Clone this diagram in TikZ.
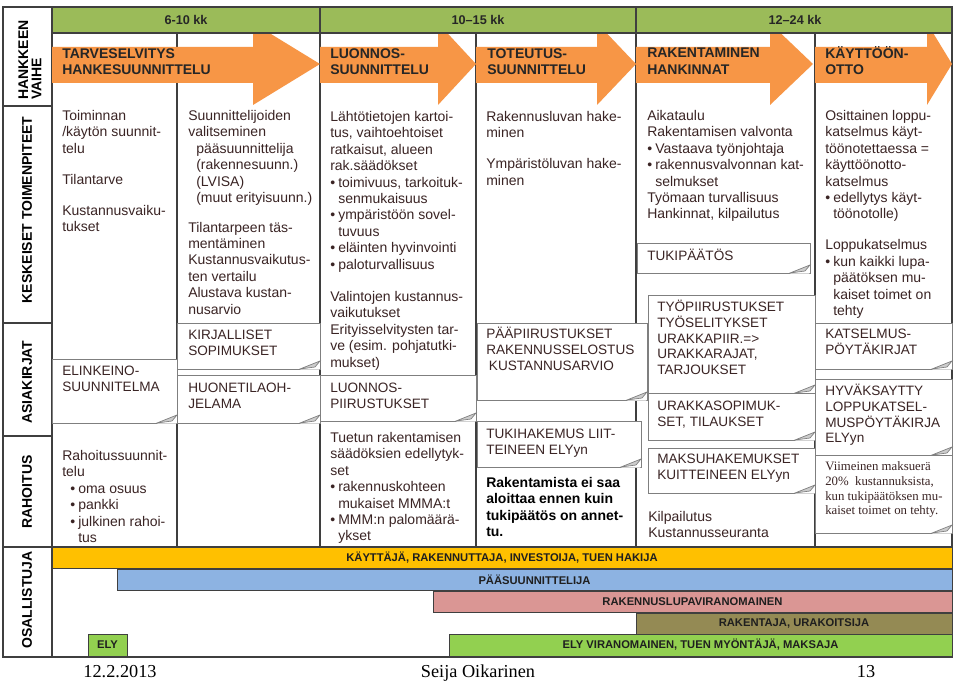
\documentclass[tikz,border=0pt]{standalone}
\usepackage{fontspec}
\setmainfont{Liberation Sans}
\newfontfamily\timesfont{Liberation Serif}
\usetikzlibrary{calc}
\definecolor{PhaseGreen}{HTML}{9BBB59}
\definecolor{PhaseOrange}{HTML}{F79646}
\definecolor{UserYellow}{HTML}{FFC000}
\definecolor{DesignBlue}{HTML}{8DB3E2}
\definecolor{PermitRose}{HTML}{DA9694}
\definecolor{BuilderOlive}{HTML}{948A54}
\definecolor{ElyGreen}{HTML}{92D050}
\definecolor{GridGray}{HTML}{3F3F3F}
\definecolor{BoxGray}{HTML}{7F7F7F}
\definecolor{InkBrown}{HTML}{3A2424}

\newcommand{\bul}{\makebox[6pt][l]{\textbullet}}
\newcommand{\ind}{\hspace*{6pt}}
% taitettu kulma asiakirjalaatikon oikeaan alakulmaan
\newcommand{\curl}[2]{%
  \fill[white] (#1-20,#2+0.6) -- (#1-0.6,#2+0.6) -- (#1-0.6,#2-8) -- cycle;
  \filldraw[fill=gray!40, draw=BoxGray, line width=0.5pt] (#1-20,#2) -- (#1,#2-8) -- (#1-5,#2-2) -- cycle;}

\begin{document}
\begin{tikzpicture}[x=0.75pt, y=-0.75pt,
    font=\fontsize{10.5}{12.3}\selectfont,
    tableline/.style={draw=GridGray, line width=0.9pt},
    period/.style={draw=GridGray, fill=PhaseGreen, line width=0.9pt},
    periodtext/.style={inner sep=0pt, text=black!85, font=\bfseries\fontsize{9.5}{11}\selectfont},
    phasetext/.style={anchor=north west, align=left, inner sep=0pt, text=black!85, font=\bfseries\fontsize{10.5}{12.5}\selectfont},
    rowlabel/.style={rotate=90, align=left, inner sep=0pt, text=black, font=\bfseries\fontsize{10.5}{10}\selectfont},
    celltext/.style={anchor=north west, align=left, inner sep=0pt, text=InkBrown, font=\fontsize{10.5}{12.3}\selectfont},
    doctext/.style={anchor=north west, align=left, inner sep=0pt, text=InkBrown, font=\fontsize{10.2}{11.8}\selectfont},
    docbox/.style={draw=BoxGray, fill=white, line width=0.7pt},
    partybar/.style={draw=GridGray, line width=0.7pt},
    bartext/.style={inner sep=0pt, text=black!88, font=\bfseries\fontsize{8.4}{9}\selectfont},
    foot/.style={anchor=base, inner sep=0pt, font=\timesfont\fontsize{13.7}{15}\selectfont}
]

  % Tausta ja kuvan rajat
  \fill[white] (0,0) rectangle (960,681);
  \useasboundingbox (0,0) rectangle (960,681);

  % =========================================================================
  % TAULUKON RUNKO
  % =========================================================================
  \draw[tableline] (3,7) rectangle (952,657);
  \draw[tableline] (52,7) -- (52,657);
  \foreach \yy in {106,323,436,547} \draw[tableline] (3,\yy) -- (52,\yy);
  \draw[tableline] (52,547) -- (952,547);
  \foreach \xx in {177,320,476,636,815} \draw[tableline] (\xx,33) -- (\xx,547);

  % =========================================================================
  % HANKKEEN VAIHEET (NUOLET)
  % =========================================================================
  \foreach \xa/\xb/\xc in {52/253/320, 320/438/476, 476/597/636, 636/770/813, 815/927/952}
    \fill[PhaseOrange] (\xa,47) -- (\xb,47) -- (\xb,23) -- (\xc,64) -- (\xb,105) -- (\xb,83) -- (\xa,83) -- cycle;

  \node[phasetext] (v1) at (62,48) {TARVESELVITYS\\HANKESUUNNITTELU};
  \node[phasetext] (v2) at (330,48) {LUONNOS-\\SUUNNITTELU};
  \node[phasetext] (v3) at (487,48) {TOTEUTUS-\\SUUNNITTELU};
  \node[phasetext] (v4) at (647,48) {RAKENTAMINEN\\HANKINNAT};
  \node[phasetext] (v5) at (825,46) {KÄYTTÖÖN-\\OTTO};

  % Kestot
  \draw[period] (52,7) rectangle (320,33);
  \draw[period] (320,7) rectangle (636,33);
  \draw[period] (636,7) rectangle (952,33);
  \node[periodtext] (p1) at (186,20) {6-10 kk};
  \node[periodtext] (p2) at (478,20) {10–15 kk};
  \node[periodtext] (p3) at (795,20) {12–24 kk};

  % Rivien otsikot
  \node[rowlabel] (r1) at (30,60) {HANKKEEN\\VAIHE};
  \node[rowlabel] (r2) at (27,210) {KESKEISET TOIMENPITEET};
  \node[rowlabel] (r3) at (27,382) {ASIAKIRJAT};
  \node[rowlabel] (r4) at (27,492) {RAHOITUS};
  \node[rowlabel] (r5) at (27,600) {OSALLISTUJA};

  % =========================================================================
  % KESKEISET TOIMENPITEET
  % =========================================================================
  \node[celltext] (k1) at (62,110) {Toiminnan\\/käytön suunnit-\\telu\\[11pt]Tilantarve\\[11pt]Kustannusvaiku-\\tukset};
  \node[celltext] (k2) at (188,110) {Suunnittelijoiden\\valitseminen\\\ind pääsuunnittelija\\\ind (rakennesuunn.)\\\ind (LVISA)\\\ind (muut erityisuunn.)\\[10pt]Tilantarpeen täs-\\mentäminen\\Kustannusvaikutus-\\ten vertailu\\Alustava kustan-\\nusarvio};
  \node[celltext] (k3) at (330,111) {Lähtötietojen kartoi-\\tus, vaihtoehtoiset\\ratkaisut, alueen\\rak.säädökset\\\bul toimivuus, tarkoituk-\\\ind senmukaisuus\\\bul ympäristöön sovel-\\\ind tuvuus\\\bul eläinten hyvinvointi\\\bul paloturvallisuus\\[12pt]Valintojen kustannus-\\vaikutukset\\Erityisselvitysten tar-\\ve (esim. pohjatutki-\\mukset)};
  \node[celltext] (k4) at (486,111) {Rakennusluvan hake-\\minen\\[11pt]Ympäristöluvan hake-\\minen};
  \node[celltext] (k5) at (647,110) {Aikataulu\\Rakentamisen valvonta\\\bul Vastaava työnjohtaja\\\bul rakennusvalvonnan kat-\\\ind selmukset\\Työmaan turvallisuus\\Hankinnat, kilpailutus};
  \node[celltext] (k6) at (825,110) {Osittainen loppu-\\katselmus käyt-\\töönotettaessa =\\käyttöönotto-\\katselmus\\\bul edellytys käyt-\\\ind töönotolle)\\[11pt]Loppukatselmus\\\bul kun kaikki lupa-\\\ind päätöksen mu-\\\ind kaiset toimet on\\\ind tehty};

  % =========================================================================
  % ASIAKIRJAT
  % =========================================================================
  \draw[docbox] (52,359) rectangle (177,423);
  \node[doctext] (a1) at (62,366) {ELINKEINO-\\SUUNNITELMA};
  \curl{177}{423}

  \draw[docbox] (177,323) rectangle (320,369);
  \node[doctext] (a2) at (188,330) {KIRJALLISET\\SOPIMUKSET};
  \curl{320}{369}

  \draw[docbox] (177,375) rectangle (320,423);
  \node[doctext] (a3) at (188,383) {HUONETILAOH-\\JELAMA};
  \curl{320}{423}

  \draw[docbox] (320,375) rectangle (476,421);
  \node[doctext] (a4) at (330,383) {LUONNOS-\\PIIRUSTUKSET};
  \curl{476}{421}

  \draw[docbox] (477,323) rectangle (647,400);
  \node[doctext] (a5) at (486,327) {PÄÄPIIRUSTUKSET\\RAKENNUSSELOSTUS\\\hspace*{2pt}KUSTANNUSARVIO};
  \curl{647}{400}

  \draw[docbox] (477,421) rectangle (641,467);
  \node[doctext] (a6) at (486,429) {TUKIHAKEMUS LIIT-\\TEINEEN ELYyn};
  \curl{641}{467}

  \draw[docbox] (637,243) rectangle (810,273);
  \node[doctext] (a7) at (647,249) {TUKIPÄÄTÖS};
  \curl{810}{273}

  \draw[docbox] (648,295) rectangle (815,393);
  \node[doctext] (a8) at (657,300) {TYÖPIIRUSTUKSET\\TYÖSELITYKSET\\URAKKAPIIR.=>\\URAKKARAJAT,\\TARJOUKSET};
  \curl{815}{393}

  \draw[docbox] (648,393) rectangle (815,440);
  \node[doctext] (a9) at (657,401) {URAKKASOPIMUK-\\SET, TILAUKSET};
  \curl{815}{440}

  \draw[docbox] (648,448) rectangle (815,493);
  \node[doctext] (a10) at (657,454) {MAKSUHAKEMUKSET\\KUITTEINEEN ELYyn};
  \curl{815}{493}

  \draw[docbox] (815,323) rectangle (952,369);
  \node[doctext] (a11) at (825,329) {KATSELMUS-\\PÖYTÄKIRJAT};
  \curl{952}{369}

  \draw[docbox] (815,379) rectangle (952,455);
  \node[doctext] (a12) at (825,384) {HYVÄKSAYTTY\\LOPPUKATSEL-\\MUSPÖYTÄKIRJA\\ELYyn};
  \curl{952}{455}

  \draw[docbox] (815,455) rectangle (952,533);
  \node[doctext, font=\timesfont\fontsize{9.6}{11.2}\selectfont] (a13) at (825,461) {Viimeinen maksuerä\\20\%{}\ \ kustannuksista,\\kun tukipäätöksen mu-\\kaiset toimet on tehty.};
  \curl{952}{533}

  % =========================================================================
  % RAHOITUS
  % =========================================================================
  \node[celltext] (f1) at (62,450) {Rahoitussuunnit-\\telu\\\ind\bul oma osuus\\\ind\bul pankki\\\ind\bul julkinen rahoi-\\\ind\ind tus};
  \node[celltext] (f3) at (330,432) {Tuetun rakentamisen\\säädöksien edellytyk-\\set\\\bul rakennuskohteen\\\ind mukaiset MMMA:t\\\bul MMM:n palomäärä-\\\ind ykset};
  \node[celltext, font=\bfseries\fontsize{10.5}{12.3}\selectfont, text=black] (f4) at (486,477) {Rakentamista ei saa\\aloittaa ennen kuin\\tukipäätös on annet-\\tu.};
  \node[celltext] (f5) at (648,511) {Kilpailutus\\Kustannusseuranta};

  % =========================================================================
  % OSALLISTUJAT
  % =========================================================================
  \draw[partybar, fill=UserYellow] (52,547) rectangle node[bartext] (b1) {KÄYTTÄJÄ, RAKENNUTTAJA, INVESTOIJA, TUEN HAKIJA} (952,568);
  \draw[partybar, fill=DesignBlue] (117,569) rectangle node[bartext] (b2) {PÄÄSUUNNITTELIJA} (952,590);
  \draw[partybar, fill=PermitRose] (433,591) rectangle node[bartext] (b3) {RAKENNUSLUPAVIRANOMAINEN} (952,612);
  \draw[partybar, fill=BuilderOlive] (636,613) rectangle node[bartext] (b4) {RAKENTAJA, URAKOITSIJA} (952,634);
  \draw[partybar, fill=ElyGreen] (449,634) rectangle node[bartext] (b5) {ELY VIRANOMAINEN, TUEN MYÖNTÄJÄ, MAKSAJA} (952,656);
  \draw[partybar, fill=ElyGreen] (88,634) rectangle node[bartext] (b6) {ELY} (127,656);

  % Alatunniste
  \node[foot] (date) at (120,677) {12.2.2013};
  \node[foot] (author) at (478,677) {Seija Oikarinen};
  \node[foot] (page) at (866,677) {13};

\end{tikzpicture}
\end{document}
